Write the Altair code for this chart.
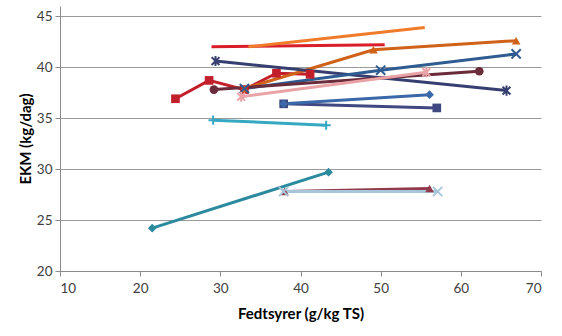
import altair as alt
import pandas as pd

# series: name, x values, y values
names = ["teal_diamond", "maroon_triangle", "lightblue_x", "cyan_plus",
         "navy_square", "blue_diamond", "red_square", "crimson_line",
         "orange_line", "darkorange_triangle", "navy_asterisk", "blue_x",
         "maroon_circle", "pink_star"]
xs = [
    [21.5, 43.5],
    [38.0, 56.1],
    [37.9, 57.1],
    [29.1, 43.2],
    [37.9, 57.0],
    [37.9, 56.1],
    [24.4, 28.6, 33.0, 37.0, 41.2],
    [28.9, 50.5],
    [33.5, 55.5],
    [33.0, 49.1, 66.9],
    [29.4, 65.7],
    [33.0, 50.0, 66.9],
    [29.2, 62.3],
    [32.6, 55.7],
]
ys = [
    [24.2, 29.7],
    [27.8, 28.1],
    [27.8, 27.8],
    [34.8, 34.3],
    [36.4, 36.0],
    [36.4, 37.3],
    [36.9, 38.7, 37.8, 39.4, 39.3],
    [42.0, 42.2],
    [42.0, 43.9],
    [37.9, 41.7, 42.6],
    [40.6, 37.7],
    [37.9, 39.7, 41.3],
    [37.8, 39.6],
    [37.1, 39.5],
]
colors = ["#2C8A9E", "#923A4D", "#A8C6DA", "#36A8C2",
          "#3F4880", "#3A68A8", "#C21F2A", "#D91E2A",
          "#F07B2A", "#CF6218", "#363F70", "#2E5B90",
          "#6A2B3B", "#E9A3A6"]

X_PATH = "M-1,-1L1,1M-1,1L1,-1"
AST_PATH = "M-0.85,-0.85L0.85,0.85M-0.85,0.85L0.85,-0.85M0,-1.1L0,1.1"
PLUS_PATH = "M-1,0L1,0M0,-1L0,1"
filled_shapes = {"teal_diamond": "diamond", "maroon_triangle": "triangle-up",
                 "navy_square": "square", "blue_diamond": "diamond",
                 "red_square": "square", "darkorange_triangle": "triangle-up",
                 "maroon_circle": "circle"}
stroked_shapes = {"lightblue_x": X_PATH, "cyan_plus": PLUS_PATH,
                  "navy_asterisk": AST_PATH, "blue_x": X_PATH,
                  "pink_star": AST_PATH}

rows = []
for n, xv, yv in zip(names, xs, ys):
    for i, (a, b) in enumerate(zip(xv, yv)):
        rows.append({"series": n, "x": a, "y": b, "i": i})
df = pd.DataFrame(rows)

color_scale = alt.Scale(domain=names, range=colors)
xenc = alt.X("x:Q", scale=alt.Scale(domain=[10, 70]),
             axis=alt.Axis(values=[10, 20, 30, 40, 50, 60, 70], grid=False,
                           title="Fedtsyrer (g/kg TS)", titlePadding=12,
                           labelPadding=5))
yenc = alt.Y("y:Q", scale=alt.Scale(domain=[20, 45]),
             axis=alt.Axis(values=[20, 25, 30, 35, 40, 45], grid=True,
                           title="EKM (kg/dag)", titlePadding=3))

base = alt.Chart(df)
lines = base.mark_line(strokeWidth=3).encode(
    x=xenc, y=yenc,
    color=alt.Color("series:N", scale=color_scale, legend=None),
    detail="series:N", order="i:Q")

fnames = list(filled_shapes.keys())
filled = base.transform_filter(
    alt.FieldOneOfPredicate(field="series", oneOf=fnames)
).mark_point(filled=True, size=75, opacity=1).encode(
    x="x:Q", y="y:Q",
    color=alt.Color("series:N", scale=color_scale, legend=None),
    shape=alt.Shape("series:N", scale=alt.Scale(domain=fnames, range=[filled_shapes[k] for k in fnames]), legend=None))

snames = list(stroked_shapes.keys())
stroked = base.transform_filter(
    alt.FieldOneOfPredicate(field="series", oneOf=snames)
).mark_point(filled=False, size=85, strokeWidth=2, opacity=1).encode(
    x="x:Q", y="y:Q",
    color=alt.Color("series:N", scale=color_scale, legend=None),
    shape=alt.Shape("series:N", scale=alt.Scale(domain=snames, range=[stroked_shapes[k] for k in snames]), legend=None))

chart = alt.layer(lines, filled, stroked).resolve_scale(shape="independent").properties(
    width=481, height=265,
    autosize=alt.AutoSizeParams(type="none"),
    padding={"left": 60, "top": 6, "right": 21, "bottom": 65},
    background="white",
).configure_view(stroke=None).configure_axis(
    labelFont="Lato", titleFont="Lato", labelFontSize=13.5, titleFontSize=15,
    labelColor="#404040", titleColor="#000000", titleFontWeight="bold",
    domainColor="#8c8c8c", tickColor="#8c8c8c", gridColor="#9a9a9a",
    tickSize=5, labelPadding=3,
)

chart.save("out.html", embed_options={"renderer": "svg", "actions": False})
